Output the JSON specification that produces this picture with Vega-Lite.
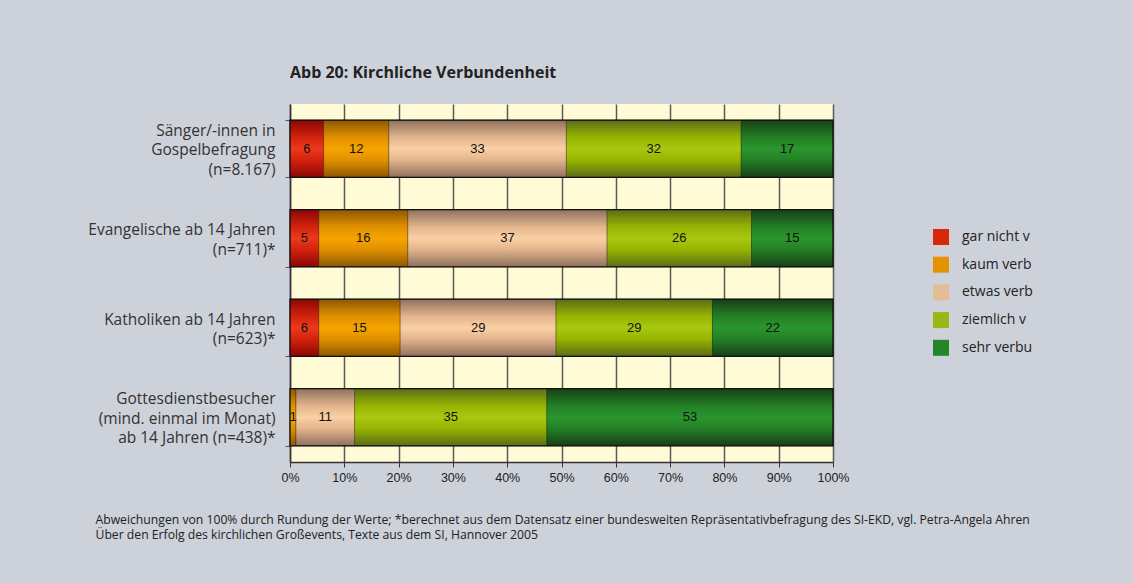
{
  "$schema": "https://vega.github.io/schema/vega-lite/v6.json",
  "width": 543,
  "height": 358,
  "autosize": {"type": "none"},
  "padding": {"left": 290, "top": 104, "right": 300, "bottom": 121},
  "background": "#cdd1da",
  "title": {
    "text": "Abb 20: Kirchliche Verbundenheit",
    "anchor": "start",
    "frame": "group",
    "font": "Open Sans",
    "fontSize": 16,
    "fontWeight": "bold",
    "color": "#222222",
    "offset": 16
  },
  "config": {
    "view": {"fill": "#fffbd6", "stroke": null},
    "font": "Open Sans"
  },
  "data": {
    "values": [
      {"group": "Sänger/-innen in|Gospelbefragung|(n=8.167)", "cat": "gar nicht verbunden", "k": 1, "value": 6.2, "label": "6"},
      {"group": "Sänger/-innen in|Gospelbefragung|(n=8.167)", "cat": "kaum verbunden", "k": 2, "value": 12.0, "label": "12"},
      {"group": "Sänger/-innen in|Gospelbefragung|(n=8.167)", "cat": "etwas verbunden", "k": 3, "value": 32.7, "label": "33"},
      {"group": "Sänger/-innen in|Gospelbefragung|(n=8.167)", "cat": "ziemlich verbunden", "k": 4, "value": 32.2, "label": "32"},
      {"group": "Sänger/-innen in|Gospelbefragung|(n=8.167)", "cat": "sehr verbunden", "k": 5, "value": 16.9, "label": "17"},
      {"group": "Evangelische ab 14 Jahren|(n=711)*", "cat": "gar nicht verbunden", "k": 1, "value": 5.3, "label": "5"},
      {"group": "Evangelische ab 14 Jahren|(n=711)*", "cat": "kaum verbunden", "k": 2, "value": 16.4, "label": "16"},
      {"group": "Evangelische ab 14 Jahren|(n=711)*", "cat": "etwas verbunden", "k": 3, "value": 36.7, "label": "37"},
      {"group": "Evangelische ab 14 Jahren|(n=711)*", "cat": "ziemlich verbunden", "k": 4, "value": 26.6, "label": "26"},
      {"group": "Evangelische ab 14 Jahren|(n=711)*", "cat": "sehr verbunden", "k": 5, "value": 15.0, "label": "15"},
      {"group": "Katholiken ab 14 Jahren|(n=623)*", "cat": "gar nicht verbunden", "k": 1, "value": 5.3, "label": "6"},
      {"group": "Katholiken ab 14 Jahren|(n=623)*", "cat": "kaum verbunden", "k": 2, "value": 15.0, "label": "15"},
      {"group": "Katholiken ab 14 Jahren|(n=623)*", "cat": "etwas verbunden", "k": 3, "value": 28.7, "label": "29"},
      {"group": "Katholiken ab 14 Jahren|(n=623)*", "cat": "ziemlich verbunden", "k": 4, "value": 28.8, "label": "29"},
      {"group": "Katholiken ab 14 Jahren|(n=623)*", "cat": "sehr verbunden", "k": 5, "value": 22.2, "label": "22"},
      {"group": "Gottesdienstbesucher|(mind. einmal im Monat)|ab 14 Jahren (n=438)*", "cat": "kaum verbunden", "k": 2, "value": 1.1, "label": "1"},
      {"group": "Gottesdienstbesucher|(mind. einmal im Monat)|ab 14 Jahren (n=438)*", "cat": "etwas verbunden", "k": 3, "value": 10.8, "label": "11"},
      {"group": "Gottesdienstbesucher|(mind. einmal im Monat)|ab 14 Jahren (n=438)*", "cat": "ziemlich verbunden", "k": 4, "value": 35.4, "label": "35"},
      {"group": "Gottesdienstbesucher|(mind. einmal im Monat)|ab 14 Jahren (n=438)*", "cat": "sehr verbunden", "k": 5, "value": 52.7, "label": "53"}
    ]
  },
  "transform": [
    {"stack": "value", "groupby": ["group"], "sort": [{"field": "k"}], "as": ["v0", "v1"]},
    {"calculate": "(datum.v0 + datum.v1) / 2", "as": "mid"}
  ],
  "encoding": {
    "y": {
      "field": "group",
      "type": "nominal",
      "sort": [
        "Sänger/-innen in|Gospelbefragung|(n=8.167)",
        "Evangelische ab 14 Jahren|(n=711)*",
        "Katholiken ab 14 Jahren|(n=623)*",
        "Gottesdienstbesucher|(mind. einmal im Monat)|ab 14 Jahren (n=438)*"
      ],
      "scale": {"paddingInner": 0.36, "paddingOuter": 0.18},
      "axis": {
        "title": null,
        "grid": false,
        "domain": true,
        "domainColor": "#333333",
        "domainWidth": 1.5,
        "ticks": true,
        "tickBand": "extent",
        "tickColor": "#555555",
        "tickSize": 5,
        "labelExpr": "split((length(split(datum.label, '|')) == 2 ? '\u200b|' : '') + join(split(datum.label, '|'), '|\u200b|'), '|')",
        "labelFont": "Open Sans",
        "labelFontSize": 15.5,
        "labelColor": "#333333",
        "labelLineHeight": 9.75,
        "labelOffset": -18.5,
        "labelPadding": 10,
        "labelLimit": 300
      }
    },
    "x": {
      "field": "v0",
      "type": "quantitative",
      "scale": {"domain": [0, 100]},
      "axis": {
        "values": [0, 10, 20, 30, 40, 50, 60, 70, 80, 90, 100],
        "labelExpr": "datum.value + '%'",
        "labelFlush": false,
        "grid": true,
        "gridColor": "#5a5a5a",
        "gridWidth": 1.5,
        "tickColor": "#333333",
        "tickSize": 5,
        "domainColor": "#333333",
        "domainWidth": 1.5,
        "labelFont": "Liberation Sans",
        "labelFontSize": 12.5,
        "labelColor": "#222222",
        "labelPadding": 4,
        "title": [
          "Abweichungen von 100% durch Rundung der Werte; *berechnet aus dem Datensatz einer bundesweiten Repräsentativbefragung des SI-EKD, vgl. Petra-Angela Ahren",
          "Über den Erfolg des kirchlichen Großevents, Texte aus dem SI, Hannover 2005"
        ],
        "titleFont": "Open Sans",
        "titleFontSize": 12.2,
        "titleFontWeight": "normal",
        "titleColor": "#222222",
        "titleAnchor": "start",
        "titleAlign": "left",
        "titleBaseline": "top",
        "titleX": -195,
        "titleY": 51,
        "titleLineHeight": 15
      }
    },
    "x2": {"field": "v1"}
  },
  "layer": [
    {
      "mark": {"type": "bar"},
      "encoding": {
        "color": {
          "field": "cat",
          "type": "nominal",
          "sort": ["gar nicht verbunden", "kaum verbunden", "etwas verbunden", "ziemlich verbunden", "sehr verbunden"],
          "scale": {
            "domain": ["gar nicht verbunden", "kaum verbunden", "etwas verbunden", "ziemlich verbunden", "sehr verbunden"],
            "range": ["#d8260f", "#e69300", "#e4bc96", "#9ab714", "#25852a"]
          },
          "legend": {
            "orient": "none",
            "legendX": 643,
            "legendY": 125,
            "title": null,
            "symbolType": "square",
            "symbolSize": 256,
            "symbolStrokeWidth": 0,
            "symbolOpacity": 1,
            "labelFont": "Open Sans",
            "labelFontSize": 14,
            "labelColor": "#222222",
            "labelOffset": 13,
            "rowPadding": 11.7,
            "labelLimit": 71,
            "encode": {"labels": {"update": {"ellipsis": {"value": "\u200b"}}}}
          }
        }
      }
    },
    {
      "transform": [{"filter": "datum.cat === 'gar nicht verbunden'"}],
      "mark": {"type": "bar", "stroke": "#000000", "strokeOpacity": 0.3, "strokeWidth": 1, "color": {"gradient": "linear", "x1": 0, "y1": 0, "x2": 0, "y2": 1, "stops": [
        {"offset": 0, "color": "#8a0606"}, {"offset": 0.3, "color": "#d3220c"}, {"offset": 0.5, "color": "#ec3a1e"}, {"offset": 0.7, "color": "#d3220c"}, {"offset": 1, "color": "#8a0606"}]}},
      "encoding": {}
    },
    {
      "transform": [{"filter": "datum.cat === 'kaum verbunden'"}],
      "mark": {"type": "bar", "stroke": "#000000", "strokeOpacity": 0.3, "strokeWidth": 1, "color": {"gradient": "linear", "x1": 0, "y1": 0, "x2": 0, "y2": 1, "stops": [
        {"offset": 0, "color": "#8c5800"}, {"offset": 0.3, "color": "#e09000"}, {"offset": 0.5, "color": "#f6a400"}, {"offset": 0.7, "color": "#e09000"}, {"offset": 1, "color": "#8c5800"}]}},
      "encoding": {}
    },
    {
      "transform": [{"filter": "datum.cat === 'etwas verbunden'"}],
      "mark": {"type": "bar", "stroke": "#000000", "strokeOpacity": 0.3, "strokeWidth": 1, "color": {"gradient": "linear", "x1": 0, "y1": 0, "x2": 0, "y2": 1, "stops": [
        {"offset": 0, "color": "#8f705c"}, {"offset": 0.3, "color": "#e2b48c"}, {"offset": 0.5, "color": "#fad0a4"}, {"offset": 0.7, "color": "#e2b48c"}, {"offset": 1, "color": "#8f705c"}]}},
      "encoding": {}
    },
    {
      "transform": [{"filter": "datum.cat === 'ziemlich verbunden'"}],
      "mark": {"type": "bar", "stroke": "#000000", "strokeOpacity": 0.3, "strokeWidth": 1, "color": {"gradient": "linear", "x1": 0, "y1": 0, "x2": 0, "y2": 1, "stops": [
        {"offset": 0, "color": "#5c6c18"}, {"offset": 0.3, "color": "#96b400"}, {"offset": 0.5, "color": "#a9c812"}, {"offset": 0.7, "color": "#96b400"}, {"offset": 1, "color": "#5c6c18"}]}},
      "encoding": {}
    },
    {
      "transform": [{"filter": "datum.cat === 'sehr verbunden'"}],
      "mark": {"type": "bar", "stroke": "#000000", "strokeOpacity": 0.3, "strokeWidth": 1, "color": {"gradient": "linear", "x1": 0, "y1": 0, "x2": 0, "y2": 1, "stops": [
        {"offset": 0, "color": "#173f16"}, {"offset": 0.3, "color": "#247f26"}, {"offset": 0.5, "color": "#2a962d"}, {"offset": 0.7, "color": "#247f26"}, {"offset": 1, "color": "#173f16"}]}},
      "encoding": {}
    },
    {
      "mark": {"type": "bar", "fillOpacity": 0, "stroke": "#111111", "strokeWidth": 1.2},
      "encoding": {
        "x": {"aggregate": "sum", "field": "value", "type": "quantitative"},
        "x2": null
      }
    },
    {
      "mark": {"type": "text", "font": "Liberation Sans", "fontSize": 13, "color": "#111111"},
      "encoding": {
        "x": {"field": "mid", "type": "quantitative"},
        "x2": null,
        "text": {"field": "label", "type": "nominal"}
      }
    }
  ]
}
